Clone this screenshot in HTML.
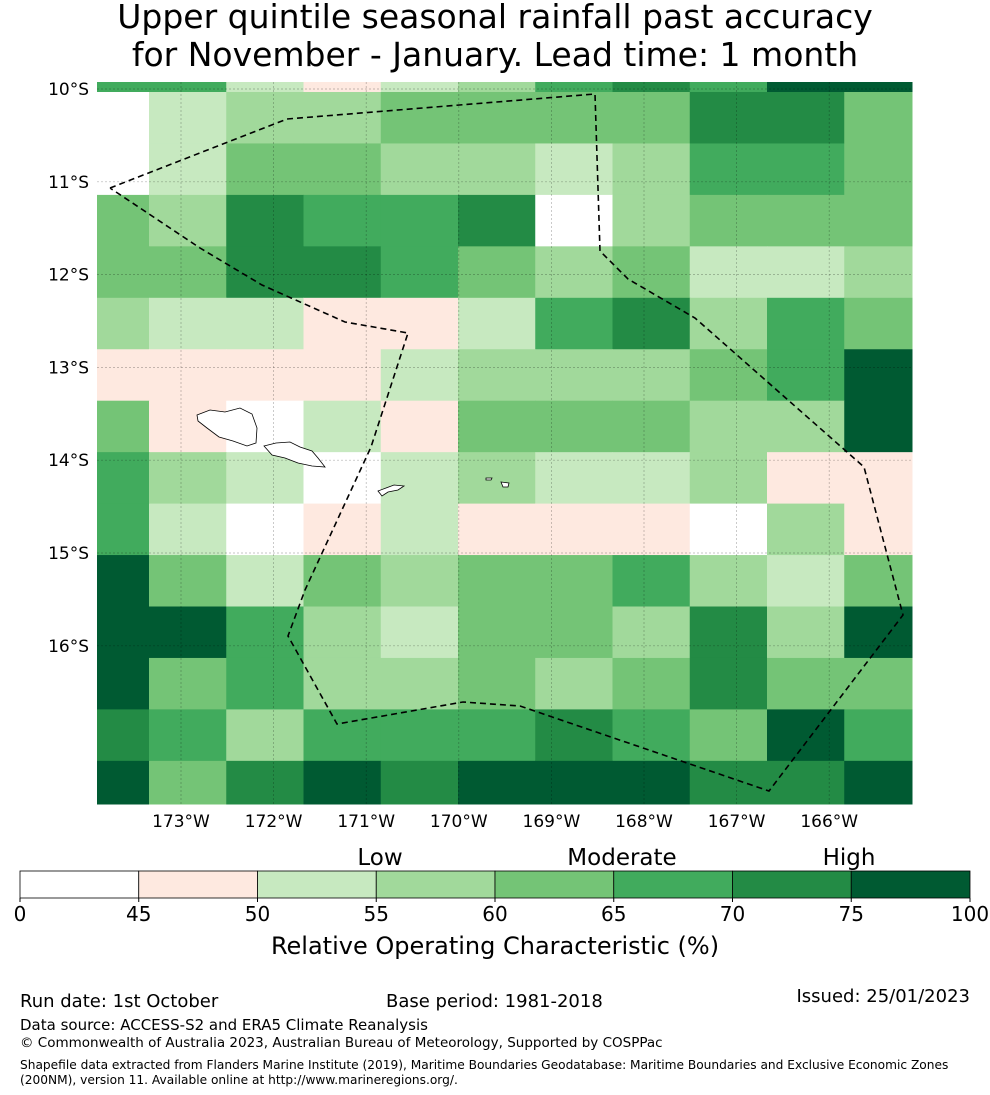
<!DOCTYPE html>
<html><head><meta charset="utf-8"><style>
html,body{margin:0;padding:0;background:#fff;}
svg{display:block;font-family:"DejaVu Sans","Liberation Sans",sans-serif;}
</style></head><body>
<svg id="chart" width="990" height="1095" viewBox="0 0 990 1095" xmlns="http://www.w3.org/2000/svg">
<text x="495" y="28" text-anchor="middle" font-size="33">Upper quintile seasonal rainfall past accuracy</text>
<text x="495" y="66" text-anchor="middle" font-size="33">for November - January. Lead time: 1 month</text>
<g id="cells"></g>
<g id="grid"></g>
<g fill="#fff" stroke="#000" stroke-width="0.8">
<path d="M197,415 L210,410 L225,412 L240,408 L252,414 L257,428 L256,443 L247,446 L233,441 L219,437 L207,428 L198,421 Z"/>
<path d="M264,446 L276,443 L290,442 L300,447 L312,451 L318,458 L325,467 L312,466 L298,463 L285,458 L272,455 Z"/>
<path d="M378,491 L386,488 L394,485 L404,486 L398,490 L388,492 L382,496 Z"/>
<path d="M501,482 L509,483 L508,487 L503,487 Z"/>
<path d="M486,478 L492,478 L491,480 L486,480 Z"/>
</g>
<polyline fill="none" stroke="#000" stroke-width="1.6" stroke-dasharray="6,4" points="110,188 287,119 595,94 600,251 628,279 695,318 864,467 903,615 769,791 520,706 463,702 337,724 288,636 305,590 371,447 408,333 345,322 262,285 200,248 110,188"/>
<g id="axes" font-size="17"></g>
<g id="cbar"></g>
<text x="380" y="865" text-anchor="middle" font-size="23">Low</text>
<text x="622" y="865" text-anchor="middle" font-size="23">Moderate</text>
<text x="849" y="865" text-anchor="middle" font-size="23">High</text>
<text x="495" y="954" text-anchor="middle" font-size="24">Relative Operating Characteristic (%)</text>
<text x="20" y="1007" font-size="18">Run date: 1st October</text>
<text x="386" y="1007" font-size="18">Base period: 1981-2018</text>
<text x="970" y="1002" text-anchor="end" font-size="18">Issued: 25/01/2023</text>
<text x="20" y="1030" font-size="15">Data source: ACCESS-S2 and ERA5 Climate Reanalysis</text>
<text x="20" y="1047" font-size="13.5">© Commonwealth of Australia 2023, Australian Bureau of Meteorology, Supported by COSPPac</text>
<text x="20" y="1069" font-size="12.2">Shapefile data extracted from Flanders Marine Institute (2019), Maritime Boundaries Geodatabase: Maritime Boundaries and Exclusive Economic Zones</text>
<text x="20" y="1084" font-size="12.2">(200NM), version 11. Available online at http://www.marineregions.org/.</text>
</svg>
<script>
// ROC values (%) per grid cell, rows north->south, columns west->east
const rowsROC = [
[67,67,52,47,52,57,67,72,67,80,80],
[40,52,57,57,62,62,62,62,72,72,62],
[40,52,62,62,57,57,52,57,67,67,62],
[62,57,72,67,67,72,40,57,62,62,62],
[62,62,72,72,67,62,57,62,52,52,57],
[57,52,52,47,47,52,67,72,57,67,62],
[47,47,47,47,52,57,57,57,62,67,80],
[62,47,40,52,47,62,62,62,57,57,80],
[67,57,52,40,52,57,52,52,57,47,47],
[67,52,40,47,52,47,47,47,40,57,47],
[80,62,52,62,57,62,62,67,57,52,62],
[80,80,67,57,52,62,62,57,72,57,80],
[80,62,67,57,57,62,57,62,72,62,62],
[72,67,57,67,67,67,72,67,62,80,67],
[80,62,72,80,72,80,80,80,72,72,80]
];
const bounds = [0,45,50,55,60,65,70,75,100];
const colors = ["#ffffff","#fee9e0","#c7e9c0","#a1d99b","#74c476","#41ab5d","#238b45","#005a32"];
const lonTicks = ["173°W","172°W","171°W","170°W","169°W","168°W","167°W","166°W"];
const lonVals = [-173,-172,-171,-170,-169,-168,-167,-166];
const latTicks = ["10°S","11°S","12°S","13°S","14°S","15°S","16°S"];
const latVals = [-10,-11,-12,-13,-14,-15,-16];
const cbTicks = ["0","45","50","55","60","65","70","75","100"];

const NS="http://www.w3.org/2000/svg";
function mk(t,a){const e=document.createElementNS(NS,t);for(const k in a)e.setAttribute(k,a[k]);return e;}
const X0=97,X1=912,Y0=82,Y1=804;
const lonX = lon => 181 + (lon+173)*92.6;
const latY = lat => 89 + (-10-lat)*92.8;
const colW=77.25, colStart=149-colW;
const rowH=51.45, rowStart=92-rowH;
const colX = c => Math.max(X0, colStart + c*colW);
const colX2 = c => Math.min(X1, colStart + (c+1)*colW);
const rowY = r => Math.max(Y0, rowStart + r*rowH);
const rowY2 = r => Math.min(Y1, rowStart + (r+1)*rowH);
function colorFor(v){for(let i=0;i<colors.length;i++){if(v<bounds[i+1])return colors[i];}return colors[colors.length-1];}

const cells=document.getElementById('cells');
rowsROC.forEach((row,r)=>row.forEach((v,c)=>{
  const x=colX(c),y=rowY(r);
  const rc=mk('rect',{x:x,y:y,width:colX2(c)-x+0.5,height:rowY2(r)-y+0.5,fill:colorFor(v)});
  
  
  cells.appendChild(rc);
}));

const grid=document.getElementById('grid'), axes=document.getElementById('axes');
lonVals.forEach((lon,i)=>{
  const x=lonX(lon);
  const l=mk('line',{x1:x,x2:x,y1:Y0,y2:Y1,stroke:'#000','stroke-opacity':0.3,'stroke-width':0.7,'stroke-dasharray':'2,2'});
  
  
  grid.appendChild(l);
  const t=mk('text',{x:x,y:827,'text-anchor':'middle'});t.textContent=lonTicks[i];
  
  
  axes.appendChild(t);
});
latVals.forEach((lat,i)=>{
  const y=latY(lat);
  const l=mk('line',{x1:X0,x2:X1,y1:y,y2:y,stroke:'#000','stroke-opacity':0.3,'stroke-width':0.7,'stroke-dasharray':'2,2'});
  
  
  grid.appendChild(l);
  const t=mk('text',{x:89,y:y+6,'text-anchor':'end'});t.textContent=latTicks[i];
  
  
  axes.appendChild(t);
});

const cb=document.getElementById('cbar');
const CB0=20,CB1=970,CBY=871,CBH=27,seg=(CB1-CB0)/colors.length;
colors.forEach((col,i)=>{
  const r=mk('rect',{x:CB0+i*seg,y:CBY,width:seg,height:CBH,fill:col,stroke:'#000','stroke-width':0.8});
  
  
  cb.appendChild(r);
});
cbTicks.forEach((lab,i)=>{
  const x=CB0+i*seg;
  const tk=mk('line',{x1:x,x2:x,y1:CBY+CBH,y2:CBY+CBH+4,stroke:'#000'});
  
  
  cb.appendChild(tk);
  const t=mk('text',{x:x,y:921,'text-anchor':'middle','font-size':20});t.textContent=lab;
  
  
  cb.appendChild(t);
});
</script>
</body></html>
